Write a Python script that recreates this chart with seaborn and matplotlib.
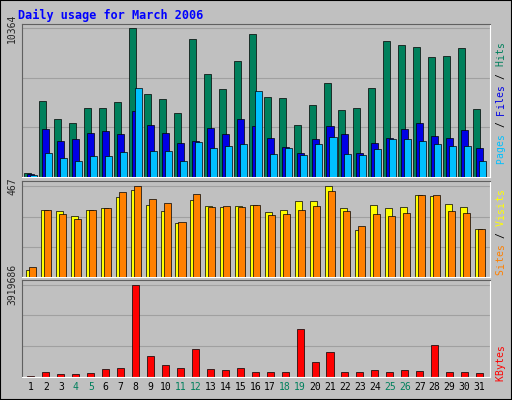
import numpy as np
import matplotlib
matplotlib.use("Agg")
import matplotlib.pyplot as plt
import seaborn as sns

days = list(range(1, 32))
weekend = {4, 5, 11, 12, 18, 19, 25, 26}

hits = [300, 5320, 4060, 3780, 4830, 4830, 5250, 10364, 5810, 5460, 4480, 9660, 7210, 6160, 8120, 10010,
        5600, 5530, 3640, 5040, 6580, 4690, 4830, 6230, 9520, 9240, 9100, 8400, 8470, 9030, 4760]
files = [210, 3360, 2520, 2660, 3080, 3220, 3010, 4620, 3640, 3080, 2380, 2520, 3430, 3010, 4060, 3570,
         2730, 2100, 1680, 2660, 3570, 3010, 1680, 2380, 2730, 3360, 3780, 2870, 2730, 3290, 2030]
pages = [140, 1680, 1330, 1120, 1470, 1470, 1750, 6230, 1820, 1820, 1120, 2450, 2030, 2170, 2310, 6020,
         1610, 2030, 1540, 2310, 2800, 1610, 1540, 1960, 2660, 2660, 2520, 2310, 2170, 2170, 1120]
visits = [36, 344, 339, 313, 344, 354, 410, 450, 369, 339, 277, 395, 364, 359, 364, 369,
          333, 344, 390, 390, 467, 354, 241, 369, 354, 359, 421, 416, 374, 359, 246]
sites = [51, 344, 323, 298, 344, 354, 436, 467, 400, 380, 282, 426, 359, 364, 359, 369,
         318, 323, 344, 364, 441, 339, 262, 323, 313, 328, 421, 421, 339, 328, 246]
kbytes = [43000, 215000, 129000, 129000, 172000, 345000, 388000, 3919686, 905000, 517000, 388000, 1206000,
          345000, 301000, 388000, 215000, 215000, 215000, 2024000, 646000, 1077000, 215000, 215000, 301000,
          215000, 301000, 258000, 1378000, 215000, 215000, 172000]

sns.set_style("white")
plt.rcParams["font.family"] = ["DejaVu Sans Mono"]
BG = "#C0C0C0"
GREEN = "#00805C"

fig = plt.figure(figsize=(5.12, 4.0), dpi=100, facecolor=BG)
fig.text(0.035, 0.962, "Daily usage for March 2006", color="#0000FF", fontsize=8.5,
         fontweight="bold", va="center")

def panel(top, bottom):
    ax = fig.add_axes([22 / 512, 1 - bottom / 400, 468 / 512, (bottom - top) / 400])
    ax.set_facecolor(BG)
    ax.set_xlim(0.4, 31.7)
    for s in ["top", "left"]:
        ax.spines[s].set_color("#606060")
    for s in ["bottom", "right"]:
        ax.spines[s].set_color("white")
    ax.tick_params(length=0)
    ax.set_xticks([])
    return ax

x = np.array(days, dtype=float)
w = 0.47

ax1 = panel(24, 177)
mx = max(hits)
ax1.set_ylim(0, mx * 1.03)
for f in (1 / 3, 2 / 3, 1):
    ax1.axhline(mx * f, color="#A0A0A0", lw=0.8, zorder=0)
ax1.bar(x - 0.2, hits, width=w, color=GREEN, edgecolor="black", lw=0.5, zorder=2)
ax1.bar(x, files, width=w, color="#0000E6", edgecolor="black", lw=0.5, zorder=3)
ax1.bar(x + 0.2, pages, width=w, color="#00C0FF", edgecolor="black", lw=0.5, zorder=4)
ax1.set_yticks([mx])
ax1.set_yticklabels([str(mx)], rotation=90, va="center", fontsize=7)

ax2 = panel(181, 277)
mx2 = max(sites)
ax2.set_ylim(0, mx2 * 1.06)
for f in (1 / 3, 2 / 3, 1):
    ax2.axhline(mx2 * f, color="#A0A0A0", lw=0.8, zorder=0)
ax2.bar(x - 0.1, visits, width=w, color="#FFFF00", edgecolor="black", lw=0.5, zorder=2)
ax2.bar(x + 0.1, sites, width=w, color="#FF8000", edgecolor="black", lw=0.5, zorder=3)
ax2.set_yticks([mx2])
ax2.set_yticklabels([str(mx2)], rotation=90, va="center", fontsize=7)

ax3 = panel(280, 377)
mx3 = max(kbytes)
ax3.set_ylim(0, mx3 * 1.05)
for f in (1 / 3, 2 / 3, 1):
    ax3.axhline(mx3 * f, color="#A0A0A0", lw=0.8, zorder=0)
ax3.bar(x, kbytes, width=w, color="#FF0000", edgecolor="black", lw=0.5, zorder=2)
ax3.set_yticks([mx3])
ax3.set_yticklabels([str(mx3)], rotation=90, va="center", fontsize=7)
ax3.set_xticks(days)
ax3.set_xticklabels([str(d) for d in days], fontsize=7)
for lbl, d in zip(ax3.get_xticklabels(), days):
    lbl.set_color(GREEN if d in weekend else "black")

# right-side legends, reading bottom to top
def vlabel(y_center, parts):
    total = sum(len(t) for t, _ in parts)
    step = 6.1 / 400
    pos = y_center - total * step / 2
    for t, c in parts:
        for ch in t:
            fig.text(0.978, pos, ch, color=c, fontsize=7, rotation=90, ha="center", va="center")
            pos += step

vlabel(1 - 100 / 400, [("Pages", "#00C0FF"), (" / ", "black"), ("Files", "#0000E6"),
                       (" / ", "black"), ("Hits", GREEN)])
vlabel(1 - 229 / 400, [("Sites", "#FF8000"), (" / ", "black"), ("Visits", "#FFFF00")])
vlabel(1 - 360 / 400, [("KBytes", "#FF0000")])

fig.patches.append(plt.Rectangle((0, 0), 1, 1, transform=fig.transFigure, fill=False,
                                 edgecolor="black", lw=1.5))
fig.savefig("out.png", dpi=100, facecolor=BG)
